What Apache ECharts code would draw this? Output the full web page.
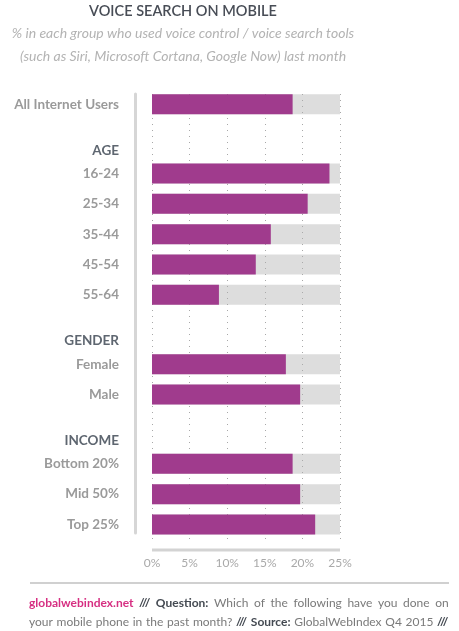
<!DOCTYPE html>
<html>
<head>
<meta charset="utf-8">
<script src="https://cdn.jsdelivr.net/npm/echarts@6/dist/echarts.min.js"></script>
<style>
html,body{margin:0;padding:0;background:#fff;}
#chart{width:459px;height:631px;}
</style>
</head>
<body>
<div id="chart"></div>
<script>
// ---- data ----
const categoriesAll = ['All Internet Users'];
const valuesAll = [18.7];
const categoriesAge = ['16-24', '25-34', '35-44', '45-54', '55-64'];
const valuesAge = [23.6, 20.7, 15.8, 13.8, 8.9];
const categoriesGender = ['Female', 'Male'];
const valuesGender = [17.8, 19.7];
const categoriesIncome = ['Bottom 20%', 'Mid 50%', 'Top 25%'];
const valuesIncome = [18.7, 19.7, 21.7];
const groupHeaders = ['', 'AGE', 'GENDER', 'INCOME'];
const xTickValues = [0, 5, 10, 15, 20, 25];

const titleText = 'VOICE SEARCH ON MOBILE';
const subtitleLines = [
  '% in each group who used voice control / voice search tools',
  '(such as Siri, Microsoft Cortana, Google Now) last month'
];

// ---- layout ----
const FONT = 'Lato, "Open Sans", sans-serif';
const PLOT_LEFT = 152, PLOT_WIDTH = 188;
const ROW_H = 30.33, GROUP_GAP = 39, FIRST_TOP = 89;
const BASELINE_Y = 550;
const PURPLE = '#a03b8d';
const X_MIN = xTickValues[0], X_MAX = xTickValues[xTickValues.length - 1];

const groups = [
  { cats: categoriesAll, vals: valuesAll },
  { cats: categoriesAge, vals: valuesAge },
  { cats: categoriesGender, vals: valuesGender },
  { cats: categoriesIncome, vals: valuesIncome }
];

const chart = echarts.init(document.getElementById('chart'), null, { renderer: 'canvas' });

const grids = [
  { left: PLOT_LEFT, width: PLOT_WIDTH, top: 94, height: 449 },   // dotted lines + x labels
  { left: PLOT_LEFT, width: PLOT_WIDTH, top: 94, height: 439 }    // left vertical rule
];
const xAxes = [
  {
    gridIndex: 0, type: 'value', min: X_MIN, max: X_MAX,
    interval: xTickValues[1] - xTickValues[0], offset: 7,
    axisLine: { show: false },
    axisTick: { show: false },
    axisLabel: { formatter: '{value}%', color: '#a9a9a9', fontSize: 12, fontFamily: FONT, margin: 7 },
    splitLine: { show: true, lineStyle: { color: '#a8a8a8', width: 1, type: [1, 5] } }
  },
  { gridIndex: 1, type: 'value', min: X_MIN, max: X_MAX, show: false }
];
const yAxes = [
  { gridIndex: 0, type: 'value', min: 0, max: 1, show: true,
    axisLine: { show: false, onZero: false }, axisTick: { show: false },
    axisLabel: { show: false }, splitLine: { show: false } },
  {
    gridIndex: 1, type: 'value', offset: 17, min: 0, max: 1,
    axisLine: { show: true, onZero: false, lineStyle: { color: '#d6d6d6', width: 3 } },
    axisTick: { show: false }, axisLabel: { show: false }, splitLine: { show: false }
  }
];
const series = [];
const graphics = [];

let gridTop = FIRST_TOP;
groups.forEach((g, i) => {
  const gi = grids.length;
  const h = ROW_H * g.cats.length;
  grids.push({ left: PLOT_LEFT, width: PLOT_WIDTH, top: gridTop, height: h });
  xAxes.push({ gridIndex: gi, type: 'value', min: X_MIN, max: X_MAX, show: false });
  yAxes.push({
    gridIndex: gi, type: 'category', data: g.cats, inverse: true,
    axisLine: { show: false }, axisTick: { show: false }, splitLine: { show: false },
    axisLabel: { margin: 33, color: '#9a9a9a', fontSize: 13.5, fontWeight: 700, fontFamily: FONT }
  });
  series.push({
    type: 'bar', xAxisIndex: gi, yAxisIndex: gi, data: g.vals, barWidth: 20,
    showBackground: true,
    backgroundStyle: { color: 'rgba(175,175,175,0.42)' },
    itemStyle: { color: PURPLE },
    silent: true, z: 3
  });
  if (groupHeaders[i]) {
    graphics.push({
      type: 'text', x: PLOT_LEFT - 33, y: gridTop - 8,
      style: {
        text: groupHeaders[i], align: 'right', verticalAlign: 'middle',
        fill: '#5e6670', font: '700 13.5px ' + FONT
      }
    });
  }
  gridTop += h + GROUP_GAP;
});

// bottom axis rule along the plot width
graphics.push({
  type: 'rect', z: 10,
  shape: { x: PLOT_LEFT, y: BASELINE_Y - 1.5, width: PLOT_WIDTH, height: 3 },
  style: { fill: '#d3d3d3' }
});

// title & subtitle
graphics.push({
  type: 'text', x: 183, y: 11,
  style: { text: titleText, align: 'center', verticalAlign: 'middle', fill: '#484d56', font: '600 14.5px ' + FONT }
});
subtitleLines.forEach((t, k) => {
  graphics.push({
    type: 'text', x: 183, y: 33 + k * 23,
    style: { text: t, align: 'center', verticalAlign: 'middle', fill: '#b3b3b3', font: 'italic 400 14px ' + FONT }
  });
});

// footer rule + footnote
graphics.push({
  type: 'line', shape: { x1: 30, y1: 583, x2: 449, y2: 583 },
  style: { stroke: '#d0d0d0', lineWidth: 2 }
});
const words = (s, st, sp) => s.split(' ').map(w => '{' + st + '|' + w + '}').join('{' + sp + '| }');
const footLine1 = '{pink|globalwebindex.net}{sp1| }{dark|///}{sp1| }{dark|Question:}{sp1| }' +
  words('Which of the following have you done on', 'g', 'sp1');
const footLine2 = words('your mobile phone in the past month?', 'g', 'sp2') +
  '{sp2| }{dark|///}{sp2| }{dark|Source:}{sp2| }' + words('GlobalWebIndex Q4 2015', 'g', 'sp2') + '{sp2| }{dark|///}';
graphics.push({
  type: 'text', x: 29, y: 594,
  style: {
    text: footLine1 + '\n' + footLine2,
    align: 'left', verticalAlign: 'top', font: '400 12px ' + FONT, fill: '#7a7a7a', lineHeight: 19,
    rich: {
      pink: { fill: '#d62f82', font: '700 12px ' + FONT, lineHeight: 19 },
      dark: { fill: '#444a52', font: '700 12px ' + FONT, lineHeight: 19 },
      g: { fill: '#7a7a7a', font: '400 12px ' + FONT, lineHeight: 19 },
      sp1: { font: '400 12px ' + FONT, width: 5.6, lineHeight: 19 },
      sp2: { font: '400 12px ' + FONT, width: 3.7, lineHeight: 19 }
    }
  }
});

chart.setOption({
  animation: false,
  backgroundColor: '#ffffff',
  grid: grids,
  xAxis: xAxes,
  yAxis: yAxes,
  series: series,
  graphic: graphics
});
</script>
</body>
</html>
